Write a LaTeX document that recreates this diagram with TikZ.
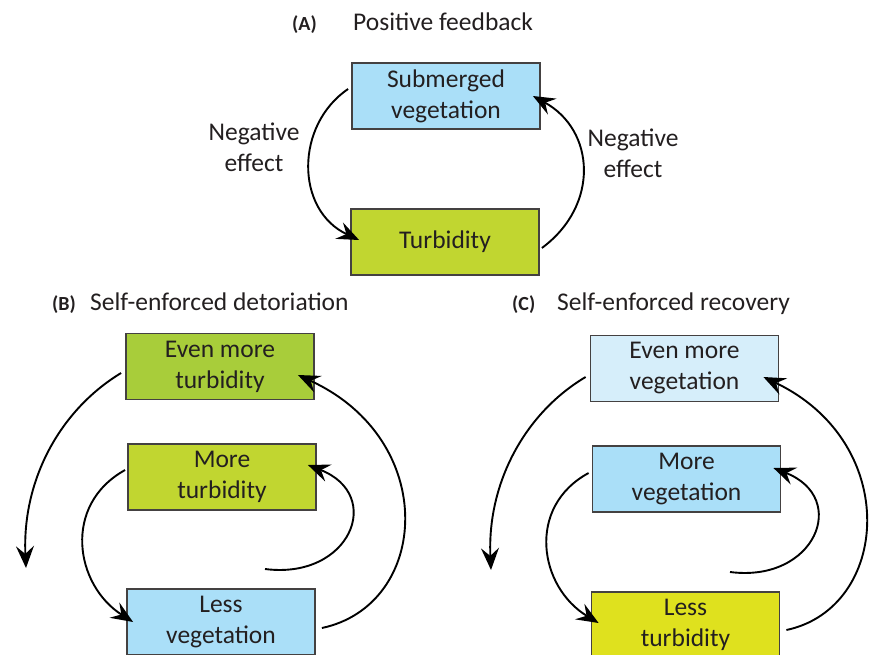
\documentclass[tikz,border=0pt]{standalone}
\usepackage{fontspec}
\setmainfont{Carlito}
\usetikzlibrary{arrows.meta}
\definecolor{vegblue}{RGB}{170,223,248}
\definecolor{vegpale}{RGB}{214,238,250}
\definecolor{turbgreen}{RGB}{193,214,48}
\definecolor{turbdark}{RGB}{168,205,58}
\definecolor{turbyellow}{RGB}{223,225,30}
\definecolor{inkgray}{RGB}{35,31,32}

\begin{document}
\begin{tikzpicture}[x=1pt, y=-1pt,
  box/.style={draw=inkgray!85, line width=1.8pt, rectangle, minimum width=188pt, minimum height=66pt, align=center, text=inkgray, inner sep=0pt, font=\fontsize{25.5}{31}\selectfont},
  lbl/.style={align=center, text=inkgray, inner sep=0pt, font=\fontsize{25.5}{31}\selectfont},
  tag/.style={anchor=base west, text=inkgray, inner sep=0pt, font=\fontsize{20}{22}\selectfont\bfseries},
  ttl/.style={anchor=base west, text=inkgray, inner sep=0pt, font=\fontsize{25.5}{30}\selectfont},
  fbarrow/.style={line width=1.9pt, -{Stealth[length=22pt,width=18pt,inset=8pt]}}]
\useasboundingbox (0,0) rectangle (869,655);

% (A) positive feedback
\node[tag] (tagA) at (292,31) {(A)};
\node[ttl] (ttlA) at (353,31) {Positive feedback};
\node[box, fill=vegblue] (sub) at (446,96) {Submerged\\vegetation};
\node[box, fill=turbgreen] (turb) at (445,242) {Turbidity};
\node[lbl] (negL) at (254,147) {Negative\\effect};
\node[lbl] (negR) at (633,153) {Negative\\effect};

\draw[fbarrow] ([shift={(-3,-7)}]sub.west) .. controls (295,125) and (295,210) .. ([shift={(9,-2)}]turb.west);
\draw[fbarrow] ([shift={(2,6)}]turb.east) .. controls (600,205) and (595,130) .. ([shift={(-8,0)}]sub.east);

% (B) self-enforced detoriation
\node[tag] (tagB) at (52,310) {(B)};
\node[ttl] (ttlB) at (90,310) {Self-enforced detoriation};
\node[box, fill=turbdark] (evmturb) at (220,366.5) {Even more\\turbidity};
\node[box, fill=turbgreen] (moreturb) at (222,477) {More\\turbidity};
\node[box, fill=vegblue] (lessveg) at (221,622) {Less\\vegetation};
\coordinate (bdown) at (26,568);
\coordinate (bstart) at (265,569);

\draw[fbarrow] ([shift={(-4,6.5)}]evmturb.west) .. controls (60,410) and (22,480) .. (bdown);
\draw[fbarrow] ([shift={(-2,-7)}]moreturb.west) .. controls (62,505) and (75,585) .. ([shift={(7,0)}]lessveg.west);
\draw[fbarrow] (bstart) .. controls (350,580) and (385,495) .. ([shift={(-9,-12)}]moreturb.east);
\draw[fbarrow] ([shift={(6,6)}]lessveg.east) .. controls (430,605) and (440,440) .. ([shift={(-17,8.5)}]evmturb.east);

% (C) self-enforced recovery
\node[tag] (tagC) at (512,310) {(C)};
\node[ttl] (ttlC) at (557,310) {Self-enforced recovery};
\node[box, fill=vegpale] (evmveg) at (684.5,368.5) {Even more\\vegetation};
\node[box, fill=vegblue] (moreveg) at (686.5,479) {More\\vegetation};
\node[box, fill=turbyellow] (lessturb) at (685.5,625) {Less\\turbidity};
\coordinate (cdown) at (491,570);
\coordinate (cstart) at (730,572);

\draw[fbarrow] ([shift={(-4,8.5)}]evmveg.west) .. controls (525,413) and (487,483) .. (cdown);
\draw[fbarrow] ([shift={(-3,-6)}]moreveg.west) .. controls (526,507) and (539,587) .. ([shift={(8,-2)}]lessturb.west);
\draw[fbarrow] (cstart) .. controls (815,583) and (850,498) .. ([shift={(-8,-11)}]moreveg.east);
\draw[fbarrow] ([shift={(6,5)}]lessturb.east) .. controls (890,608) and (902,443) .. ([shift={(-16,8.5)}]evmveg.east);
\end{tikzpicture}
\end{document}
